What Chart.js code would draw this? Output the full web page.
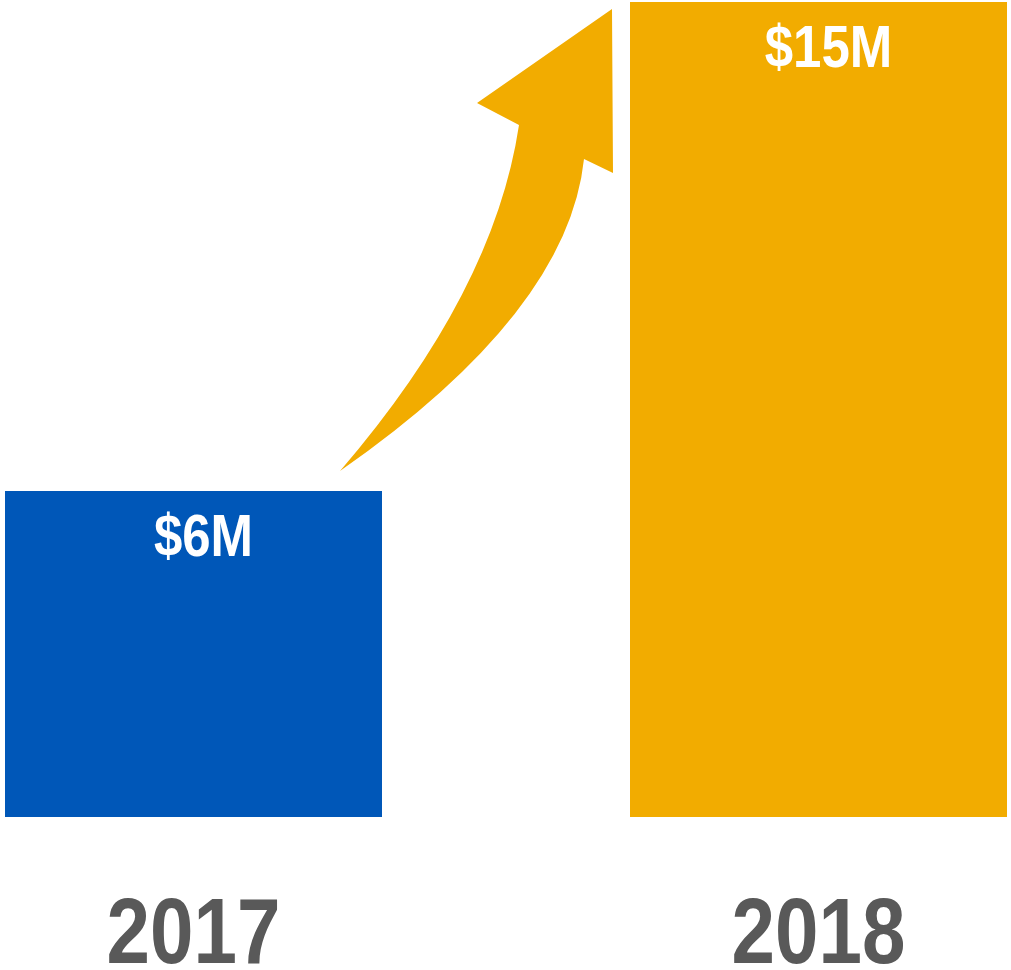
<!DOCTYPE html>
<html>
<head>
<meta charset="utf-8">
<script src="https://cdn.jsdelivr.net/npm/chart.js@4/dist/chart.umd.min.js"></script>
<style>
  html, body { margin: 0; padding: 0; background: #fff; }
  canvas { display: block; }
</style>
</head>
<body>
<canvas id="myChart" width="1011" height="970"></canvas>
<script>
const years = ["2017", "2018"];
const revenue = [6, 15];
const barColors = ["#0057B8", "#F2AC00"];
const arrowColor = "#F2AC00";
const yearColor = "#595959";
const sans = "'Liberation Sans', Arial, sans-serif";
const narrowScale = 0.85; // squeeze Liberation Sans into an Arial Narrow look

function narrowText(ctx, text, x, y) {
    ctx.save();
    ctx.translate(x, y);
    ctx.scale(narrowScale, 1);
    ctx.fillText(text, 0, 0);
    ctx.restore();
}

// white "$xM" labels in the bar tops and the year labels underneath
const barLabels = {
    id: "barLabels",
    afterDatasetsDraw(chart) {
        const ctx = chart.ctx;
        const meta = chart.getDatasetMeta(0);
        const bottom = chart.chartArea.bottom;
        ctx.save();
        ctx.textAlign = "center";
        ctx.textBaseline = "alphabetic";
        meta.data.forEach((bar, i) => {
            ctx.fillStyle = "#fff";
            ctx.font = "bold 60px " + sans;
            narrowText(ctx, "$" + revenue[i] + "M", bar.x + 10, bar.y + 65);
            ctx.fillStyle = yearColor;
            ctx.font = "bold 92px " + sans;
            narrowText(ctx, chart.data.labels[i], bar.x, bottom + 146);
        });
        ctx.restore();
    }
};

// curved growth arrow between the two bars
const growthArrow = {
    id: "growthArrow",
    afterDatasetsDraw(chart) {
        const ctx = chart.ctx;
        const bars = chart.getDatasetMeta(0).data;
        const gR = bars[1].x - bars[1].width / 2;
        const yTop = bars[1].y;
        const yLow = bars[0].y;
        const tail = [gR - 290, yLow - 20];
        ctx.save();
        ctx.fillStyle = arrowColor;
        ctx.beginPath();
        ctx.moveTo(tail[0], tail[1]);
        ctx.quadraticCurveTo(gR - 136, yTop + 290, gR - 111, yTop + 123);
        ctx.lineTo(gR - 153, yTop + 101);
        ctx.lineTo(gR - 18, yTop + 7);
        ctx.lineTo(gR - 17, yTop + 171);
        ctx.lineTo(gR - 46, yTop + 157);
        ctx.quadraticCurveTo(gR - 62, yTop + 310, tail[0], tail[1]);
        ctx.closePath();
        ctx.fill();
        ctx.restore();
    }
};

const chart = new Chart(document.getElementById("myChart"), {
    type: "bar",
    data: {
        labels: years,
        datasets: [{
            data: revenue,
            backgroundColor: barColors,
            borderWidth: 0,
            categoryPercentage: 1,
            barPercentage: 0.6032,
            clip: false
        }]
    },
    options: {
        responsive: false,
        animation: false,
        layout: { padding: { left: 193.5, right: 192.5, top: 2, bottom: 153 } },
        plugins: {
            legend: { display: false },
            tooltip: { enabled: false }
        },
        scales: {
            x: {
                display: false,
                offset: false
            },
            y: {
                display: false,
                min: 0,
                max: 15
            }
        }
    },
    plugins: [growthArrow, barLabels]
});
</script>
</body>
</html>
